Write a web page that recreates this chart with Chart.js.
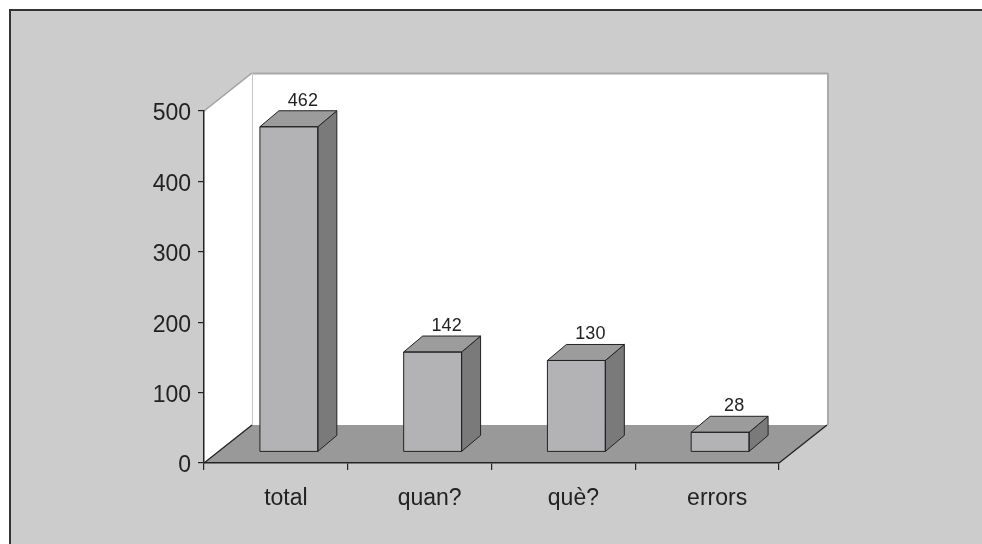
<!DOCTYPE html>
<html><head><meta charset="utf-8">
<script src="https://cdn.jsdelivr.net/npm/chart.js@4.4.1/dist/chart.umd.min.js"></script>
<style>html,body{margin:0;padding:0;background:#fff;}#wrap{width:982px;height:544px;}</style>
</head><body><div id="wrap"><canvas id="c" width="982" height="544"></canvas></div>
<script>
const categories = ['total', 'quan?', 'què?', 'errors'];
const values = [462, 142, 130, 28];
const yTicks = [0, 100, 200, 300, 400, 500];

const WALL = {dx: 48, dy: -38};   // full depth of the 3D box
const BOFF = {dx: 13, dy: -11};   // bar front plane offset
const BD = {dx: 19, dy: -16};     // bar depth

function poly(ctx, pts, fill, stroke, lw) {
  ctx.beginPath();
  ctx.moveTo(pts[0][0], pts[0][1]);
  for (let i = 1; i < pts.length; i++) ctx.lineTo(pts[i][0], pts[i][1]);
  ctx.closePath();
  if (fill) { ctx.fillStyle = fill; ctx.fill(); }
  if (stroke) { ctx.strokeStyle = stroke; ctx.lineWidth = lw || 1; ctx.stroke(); }
}
function line(ctx, x1, y1, x2, y2, c, w) {
  ctx.beginPath(); ctx.moveTo(x1, y1); ctx.lineTo(x2, y2);
  ctx.strokeStyle = c; ctx.lineWidth = w; ctx.stroke();
}

const threeD = {
  id: 'threeD',
  beforeDraw(chart) {
    const ctx = chart.ctx, a = chart.chartArea, ys = chart.scales.y;
    const L = a.left, R = a.right;
    const T = ys.getPixelForValue(yTicks[yTicks.length - 1]);
    const B = ys.getPixelForValue(yTicks[0]);
    const dx = WALL.dx, dy = WALL.dy;
    ctx.save();
    ctx.fillStyle = '#ffffff'; ctx.fillRect(0, 0, chart.width, chart.height);
    ctx.fillStyle = '#cccccc'; ctx.fillRect(9, 9, chart.width - 9, chart.height - 9);
    ctx.fillStyle = '#333333';
    ctx.fillRect(9, 9, chart.width - 9, 2);
    ctx.fillRect(9, 9, 2, chart.height - 9);
    // back wall
    ctx.fillStyle = '#ffffff';
    ctx.fillRect(L + dx, T + dy, R - L, B - T);
    // left wall
    poly(ctx, [[L, T], [L + dx, T + dy], [L + dx, B + dy], [L, B]], '#ffffff');
    // floor
    poly(ctx, [[L, B], [R, B], [R + dx, B + dy], [L + dx, B + dy]], '#999999');
    // edges
    line(ctx, L + dx, T + dy + 0.5, R + dx + 1, T + dy + 0.5, '#a8a8a8', 2);
    line(ctx, R + dx + 1, T + dy, R + dx + 1, B + dy, '#aaaaaa', 2);
    line(ctx, L, T, L + dx, T + dy, '#a0a0a0', 1.5);
    line(ctx, L + dx + 0.5, T + dy, L + dx + 0.5, B + dy, '#c4c4c4', 1);
    line(ctx, L, B, L + dx, B + dy, '#222222', 1.3);
    line(ctx, R, B, R + dx, B + dy, '#222222', 1.3);
    ctx.restore();
  },
  beforeDatasetsDraw(chart) {
    chart.ctx.save();
    chart.ctx.translate(BOFF.dx, BOFF.dy);
  },
  afterDatasetsDraw(chart) {
    const ctx = chart.ctx;
    const meta = chart.getDatasetMeta(0);
    meta.data.forEach((bar, i) => {
      const p = bar.getProps(['x', 'y', 'base', 'width'], true);
      const l = p.x - p.width / 2, r = p.x + p.width / 2;
      ctx.lineJoin = 'round';
      poly(ctx, [[r, p.y], [r + BD.dx, p.y + BD.dy], [r + BD.dx, p.base + BD.dy], [r, p.base]], '#7a7a7a', '#222222', 1);
      poly(ctx, [[l, p.y], [l + BD.dx, p.y + BD.dy], [r + BD.dx, p.y + BD.dy], [r, p.y]], '#9c9c9c', '#222222', 1);
      ctx.strokeStyle = '#222222'; ctx.lineWidth = 1;
      ctx.strokeRect(l, p.y, p.width, p.base - p.y);
      ctx.fillStyle = '#222222';
      ctx.font = '18px "Liberation Sans", Arial, sans-serif';
      ctx.textAlign = 'center';
      ctx.textBaseline = 'alphabetic';
      ctx.fillText(String(values[i]), p.x + 14, p.y + BD.dy - 5);
    });
    ctx.restore();
  }
};

new Chart(document.getElementById('c'), {
  type: 'bar',
  data: {
    labels: categories,
    datasets: [{
      data: values,
      backgroundColor: '#b3b3b5',
      borderWidth: 0,
      barPercentage: 0.403,
      categoryPercentage: 1,
      clip: false
    }]
  },
  options: {
    responsive: false,
    animation: false,
    devicePixelRatio: 1,
    layout: {padding: {left: 0, top: 111, right: 203, bottom: 0}},
    plugins: {legend: {display: false}, tooltip: {enabled: false}, title: {display: false}},
    scales: {
      x: {
        grid: {display: true, drawOnChartArea: false, drawTicks: true, tickLength: 7, color: '#222222', lineWidth: 1.2, offset: true},
        border: {display: true, color: '#222222', width: 1.5},
        ticks: {font: {family: '"Liberation Sans", Arial, sans-serif', size: 23}, color: '#222222', padding: 15, labelOffset: 10, maxRotation: 0},
        afterFit: s => { s.height = 81; }
      },
      y: {
        min: 0, max: 500,
        afterBuildTicks: s => { s.ticks = yTicks.map(v => ({value: v})); },
        grid: {display: true, drawOnChartArea: false, drawTicks: true, tickLength: 6, color: '#222222', lineWidth: 1.2},
        border: {display: true, color: '#222222', width: 1.5},
        ticks: {font: {family: '"Liberation Sans", Arial, sans-serif', size: 23}, color: '#222222', padding: 7, labelOffset: 3},
        afterFit: s => { s.width = 204; }
      }
    }
  },
  plugins: [threeD]
});
</script></body></html>
